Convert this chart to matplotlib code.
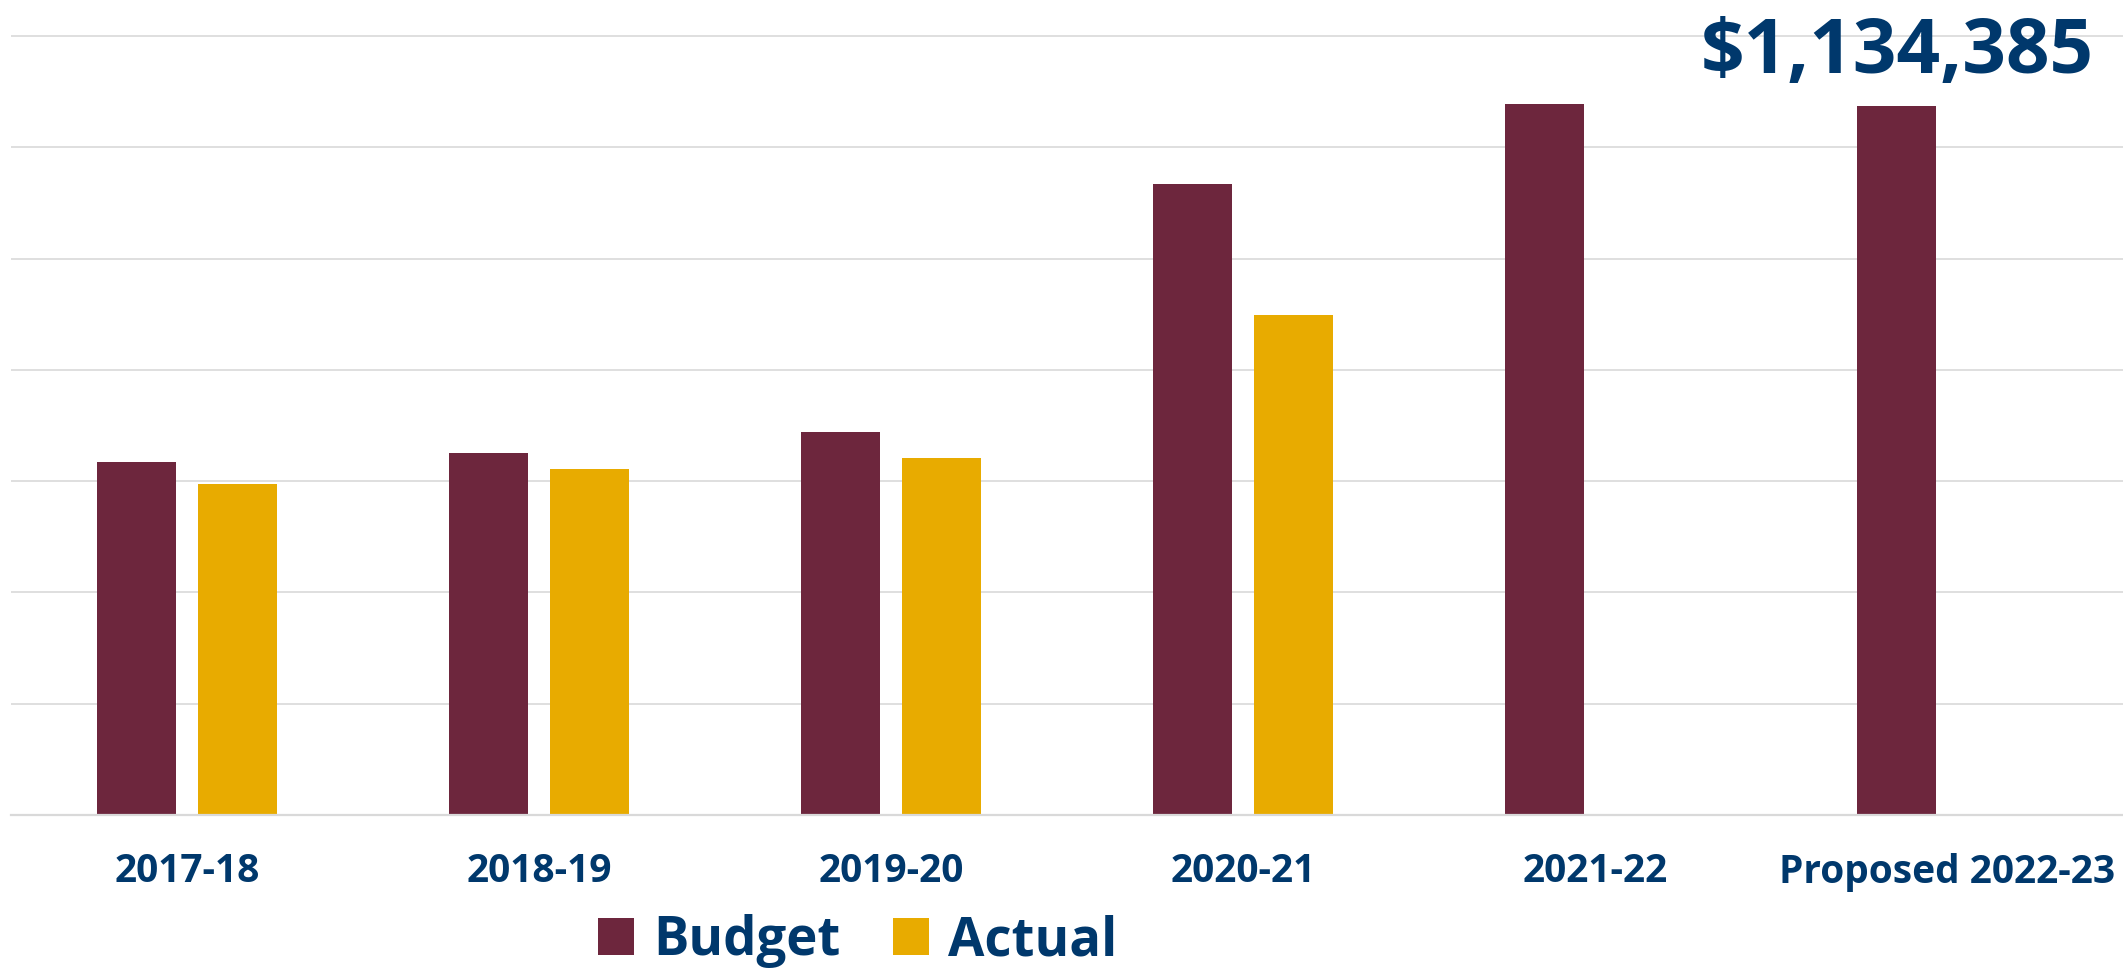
import numpy as np
import matplotlib
matplotlib.use("Agg")
import matplotlib.pyplot as plt
from matplotlib import font_manager

years = ["2017-18", "2018-19", "2019-20", "2020-21", "2021-22", "Proposed 2022-23"]
budget = [564800, 579700, 612300, 1009600, 1137100, 1134385]
actual = [529600, 553600, 570700, 799500]
callout = "$1,134,385"

BUDGET_COLOR = "#6D263D"
ACTUAL_COLOR = "#E8AB00"
TEXT_COLOR = "#00386C"
GRID_COLOR = "#D9D9D9"

names = {f.name for f in font_manager.fontManager.ttflist}
font = "Open Sans" if "Open Sans" in names else "DejaVu Sans"

W, H = 2123, 968
fig = plt.figure(figsize=(W / 100, H / 100), dpi=100)
ax = fig.add_axes([11 / W, (H - 815) / H, 1 - 11 / W, 815 / H])

step = 1134385 / 6.37  # gridline spacing of the original value axis
x = np.arange(len(years))
bw = 0.2244
off = 0.2855

ax.bar(x - off / 2, budget, width=bw, color=BUDGET_COLOR, label="Budget", zorder=3)
ax.bar(x[:len(actual)] + off / 2, actual, width=bw, color=ACTUAL_COLOR,
       label="Actual", zorder=3)

ax.set_xlim(-0.5, 5.5)
ax.set_ylim(0, 7.3226 * step)
ax.set_yticks(step * np.arange(0, 8))
ax.yaxis.grid(True, color=GRID_COLOR, linewidth=1.2, zorder=0)
ax.tick_params(axis="y", left=False, labelleft=False)
for s in ["top", "right", "left"]:
    ax.spines[s].set_visible(False)
ax.spines["bottom"].set_color(GRID_COLOR)
ax.spines["bottom"].set_linewidth(1.6)
ax.spines["bottom"].set_zorder(4)

ax.set_xticks(x)
ax.set_xticklabels(years, fontfamily=font, fontweight="bold",
                   fontsize=28, color=TEXT_COLOR)
ax.tick_params(axis="x", length=0, pad=27)

ax.annotate(callout, xy=(x[-1] - off / 2, budget[-1]), xytext=(0, 24),
            textcoords="offset points", ha="center", va="baseline",
            fontfamily=font, fontweight="bold", fontsize=55, color=TEXT_COLOR)

leg = ax.legend(loc="center left", bbox_to_anchor=(598 / W, 1 - 941 / H),
                bbox_transform=fig.transFigure, ncol=2, frameon=False,
                prop={"family": font, "weight": "bold", "size": 38},
                handlelength=0.68, handleheight=0.68, handletextpad=0.36,
                columnspacing=1.0, borderpad=0, borderaxespad=0)
for t in leg.get_texts():
    t.set_color(TEXT_COLOR)

fig.savefig("out.png", dpi=100)
